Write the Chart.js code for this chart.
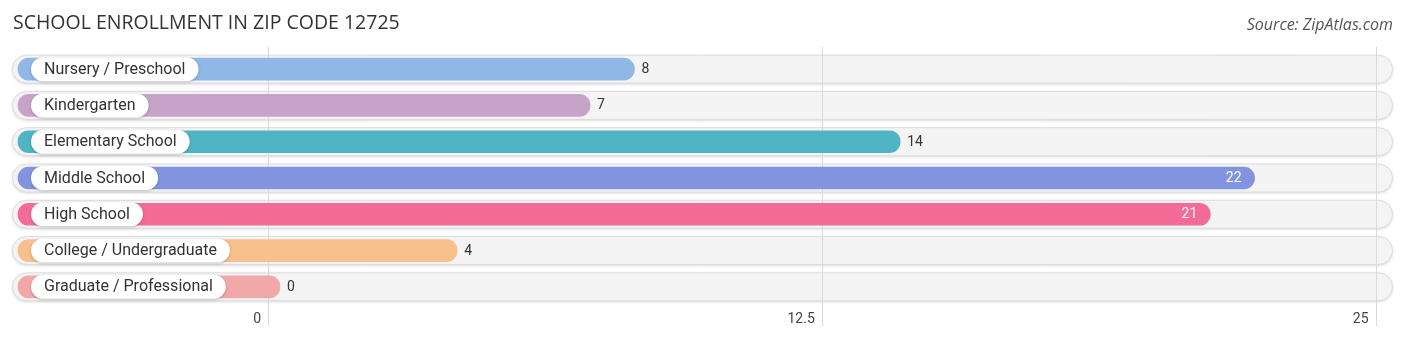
<!DOCTYPE html>
<html>
<head>
<meta charset="utf-8">
<script src="https://cdn.jsdelivr.net/npm/chart.js@4/dist/chart.umd.min.js"></script>
<style>
  html, body { margin: 0; padding: 0; background: #ffffff; }
  #wrap { position: relative; width: 1406px; height: 341px; }
  #title { position: absolute; left: 13px; top: 8px; font: 400 19.5px "Open Sans", sans-serif; color: #333; white-space: nowrap; }
  #source { position: absolute; right: 13px; top: 13px; font: italic 400 16px "Open Sans", sans-serif; color: #555; white-space: nowrap; }
  canvas { position: absolute; left: 0; top: 0; }
</style>
</head>
<body>
<div id="wrap">
  <canvas id="chart" width="1406" height="341"></canvas>
  <div id="title">SCHOOL ENROLLMENT IN ZIP CODE 12725</div>
  <div id="source">Source: ZipAtlas.com</div>
</div>
<script>
// Enrollment by school level
const categories = [
  "Nursery / Preschool",
  "Kindergarten",
  "Elementary School",
  "Middle School",
  "High School",
  "College / Undergraduate",
  "Graduate / Professional"
];
const enrollment = [8, 7, 14, 22, 21, 4, 0];
const barColors = ["#8fb8e6", "#c7a3ca", "#4fb4c3", "#8294e0", "#f46b97", "#f8c08d", "#f0a9a8"];
const tickValues = [0, 12.5, 25];
const tickLabels = ["0", "12.5", "25"];

// Scale geometry (pixels per unit and where zero sits inside the canvas)
const PX_PER_UNIT = 44.3;
const ZERO_PX = 280;
const CANVAS_W = 1406;
const X_MIN = -ZERO_PX / PX_PER_UNIT;
const X_MAX = (CANVAS_W - ZERO_PX) / PX_PER_UNIT;
const BAR_START = (18 - ZERO_PX) / PX_PER_UNIT;   // bars begin at the left edge of the track
const GRID_SHIFT = -12;                          // grid lines sit left of the rounded bar ends

function roundRect(ctx, x, y, w, h, r) {
  ctx.beginPath();
  ctx.moveTo(x + r, y);
  ctx.lineTo(x + w - r, y);
  ctx.arc(x + w - r, y + r, r, -Math.PI / 2, Math.PI / 2);
  ctx.lineTo(x + r, y + h);
  ctx.arc(x + r, y + r, r, Math.PI / 2, Math.PI * 1.5);
  ctx.closePath();
}

// Rounded background tracks and vertical grid lines behind the bars
const backdrop = {
  id: "backdrop",
  beforeDatasetsDraw(chart) {
    const ctx = chart.ctx;
    const y = chart.scales.y;
    const x = chart.scales.x;
    ctx.save();
    categories.forEach((c, i) => {
      const cy = y.getPixelForValue(i);
      ctx.save();
      ctx.shadowColor = "rgba(0,0,0,0.18)";
      ctx.shadowBlur = 3;
      ctx.shadowOffsetY = 1;
      roundRect(ctx, 12.5, cy - 14, 1380, 28, 14);
      ctx.fillStyle = "#f4f4f4";
      ctx.fill();
      ctx.restore();
      roundRect(ctx, 12.5, cy - 14, 1380, 28, 14);
      ctx.strokeStyle = "#dcdcdc";
      ctx.lineWidth = 1;
      ctx.stroke();
    });
    ctx.strokeStyle = "#d9d9d9";
    ctx.lineWidth = 1;
    tickValues.forEach(t => {
      const px = Math.round(x.getPixelForValue(t) + GRID_SHIFT) + 0.5;
      ctx.beginPath();
      ctx.moveTo(px, 47);
      ctx.lineTo(px, 326);
      ctx.stroke();
    });
    ctx.restore();
  }
};

// Category pills and value labels on top of the bars
const overlay = {
  id: "overlay",
  afterDatasetsDraw(chart) {
    const ctx = chart.ctx;
    const meta = chart.getDatasetMeta(0);
    ctx.save();
    meta.data.forEach((bar, i) => {
      const cy = bar.y;
      ctx.font = "400 16px Roboto, sans-serif";
      const tw = ctx.measureText(categories[i]).width;
      ctx.save();
      ctx.shadowColor = "rgba(0,0,0,0.22)";
      ctx.shadowBlur = 3;
      ctx.shadowOffsetY = 1;
      roundRect(ctx, 31, cy - 12, tw + 26, 24, 12);
      ctx.fillStyle = "#ffffff";
      ctx.fill();
      ctx.restore();
      ctx.fillStyle = "#333333";
      ctx.textBaseline = "middle";
      ctx.textAlign = "left";
      ctx.fillText(categories[i], 44, cy + 0.5);

      const v = enrollment[i];
      ctx.font = "400 14px Roboto, sans-serif";
      if (v >= 18) {
        ctx.fillStyle = "#ffffff";
        ctx.textAlign = "right";
        ctx.fillText(String(v), bar.x - 13, cy + 0.5);
      } else {
        ctx.fillStyle = "#333333";
        ctx.textAlign = "left";
        ctx.fillText(String(v), bar.x + 7, cy + 0.5);
      }
    });
    ctx.restore();
  }
};

new Chart(document.getElementById("chart"), {
  type: "bar",
  data: {
    labels: categories,
    datasets: [{
      data: enrollment,
      base: BAR_START,
      backgroundColor: barColors,
      borderSkipped: false,
      borderRadius: 11,
      barThickness: 22
    }]
  },
  options: {
    indexAxis: "y",
    responsive: false,
    animation: false,
    layout: { padding: { top: 51, left: 0, right: 0, bottom: 0 } },
    plugins: { legend: { display: false }, tooltip: { enabled: false } },
    scales: {
      y: { display: false, offset: true },
      x: {
        type: "linear",
        min: X_MIN,
        max: X_MAX,
        border: { display: false },
        grid: { display: false },
        afterBuildTicks: (s) => { s.ticks = tickValues.map(v => ({ value: v })); },
        afterFit: (s) => { s.height = 36; },
        ticks: {
          autoSkip: false,
          maxRotation: 0,
          align: "end",
          labelOffset: GRID_SHIFT - 7,
          padding: -2,
          color: "#444",
          font: { family: "Roboto, sans-serif", size: 14 },
          callback: (v) => tickLabels[tickValues.indexOf(v)]
        }
      }
    }
  },
  plugins: [backdrop, overlay]
});
</script>
</body>
</html>
